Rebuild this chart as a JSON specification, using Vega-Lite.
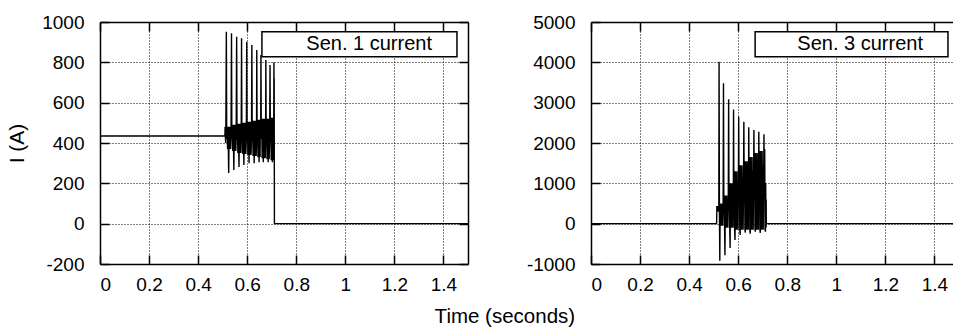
{
  "$schema": "https://vega.github.io/schema/vega-lite/v6.json",
  "padding": {"left": 6, "top": 13, "right": 0, "bottom": 0},
  "spacing": 57,
  "title": {"text": "Time (seconds)", "orient": "bottom", "anchor": "middle", "fontSize": 20.5, "fontWeight": "normal", "font": "Liberation Sans", "color": "black", "offset": 13, "dx": 25},
  "config": {
    "font": "Liberation Sans",
    "view": {"stroke": null},
    "axis": {
      "labelFont": "Liberation Sans", "labelFontSize": 19, "labelColor": "black",
      "titleFont": "Liberation Sans", "titleFontSize": 21, "titleFontWeight": "normal", "titleColor": "black",
      "domainColor": "black", "domainWidth": 1.5,
      "tickColor": "black", "tickWidth": 1.5, "tickSize": -9,
      "gridColor": "black", "gridDash": [1, 2], "gridWidth": 1, "gridOpacity": 1
    }
  },
  "datasets": {
    "s1": [
      {"t":0,"i":435},{"t":0.509,"i":435},{"t":0.510,"i":480},{"t":0.512,"i":400},{"t":0.513,"i":470},
      {"t":0.515,"i":952},{"t":0.5165,"i":420},{"t":0.518,"i":480},{"t":0.520,"i":370},{"t":0.522,"i":480},{"t":0.5245,"i":251},{"t":0.5265,"i":480},{"t":0.5285,"i":370},{"t":0.5305,"i":480},{"t":0.5325,"i":370},{"t":0.534,"i":420},
      {"t":0.536,"i":944},{"t":0.5375,"i":420},{"t":0.539,"i":490},{"t":0.541,"i":360},{"t":0.543,"i":490},{"t":0.5455,"i":266},{"t":0.5475,"i":490},{"t":0.5495,"i":360},{"t":0.5515,"i":490},{"t":0.5535,"i":360},{"t":0.555,"i":420},
      {"t":0.557,"i":927},{"t":0.5585,"i":420},{"t":0.560,"i":495},{"t":0.562,"i":350},{"t":0.564,"i":495},{"t":0.5665,"i":281},{"t":0.5685,"i":495},{"t":0.5705,"i":350},{"t":0.5725,"i":495},{"t":0.5745,"i":350},{"t":0.5755,"i":420},
      {"t":0.577,"i":919},{"t":0.5785,"i":420},{"t":0.580,"i":500},{"t":0.582,"i":345},{"t":0.584,"i":500},{"t":0.5865,"i":291},{"t":0.5885,"i":500},{"t":0.5905,"i":345},{"t":0.5925,"i":500},{"t":0.5945,"i":345},{"t":0.5965,"i":420},
      {"t":0.598,"i":902},{"t":0.5995,"i":420},{"t":0.601,"i":505},{"t":0.603,"i":340},{"t":0.605,"i":505},{"t":0.6075,"i":300},{"t":0.6095,"i":505},{"t":0.6115,"i":340},{"t":0.6135,"i":505},{"t":0.6155,"i":340},{"t":0.6175,"i":420},
      {"t":0.619,"i":886},{"t":0.6205,"i":420},{"t":0.622,"i":510},{"t":0.624,"i":335},{"t":0.626,"i":510},{"t":0.6285,"i":300},{"t":0.6305,"i":510},{"t":0.6325,"i":335},{"t":0.6345,"i":510},{"t":0.6365,"i":335},{"t":0.638,"i":420},
      {"t":0.639,"i":861},{"t":0.6405,"i":420},{"t":0.642,"i":515},{"t":0.644,"i":330},{"t":0.646,"i":515},{"t":0.6485,"i":305},{"t":0.6505,"i":515},{"t":0.6525,"i":330},{"t":0.6535,"i":515},{"t":0.655,"i":420},
      {"t":0.656,"i":836},{"t":0.6575,"i":420},{"t":0.659,"i":520},{"t":0.661,"i":325},{"t":0.663,"i":520},{"t":0.6655,"i":305},{"t":0.6675,"i":520},{"t":0.6695,"i":325},{"t":0.6715,"i":520},{"t":0.6735,"i":325},{"t":0.675,"i":420},
      {"t":0.676,"i":812},{"t":0.6775,"i":420},{"t":0.679,"i":520},{"t":0.681,"i":320},{"t":0.683,"i":520},{"t":0.6855,"i":305},{"t":0.6875,"i":520},{"t":0.6895,"i":320},{"t":0.6915,"i":420},
      {"t":0.693,"i":787},{"t":0.6945,"i":420},{"t":0.696,"i":525},{"t":0.698,"i":315},{"t":0.700,"i":525},{"t":0.7025,"i":305},{"t":0.7045,"i":525},{"t":0.7065,"i":315},{"t":0.708,"i":420},
      {"t":0.709,"i":800},{"t":0.7095,"i":450},{"t":0.710,"i":720},{"t":0.7105,"i":300},{"t":0.711,"i":0},{"t":1.5,"i":0}
    ],
    "s3": [
      {"t":0,"i":0},{"t":0.512,"i":0},{"t":0.513,"i":420},{"t":0.517,"i":420},{"t":0.519,"i":300},{"t":0.521,"i":450},
      {"t":0.522,"i":4015},{"t":0.5235,"i":250},{"t":0.525,"i":-920},{"t":0.5265,"i":500},{"t":0.528,"i":-50},{"t":0.5295,"i":450},{"t":0.531,"i":-50},{"t":0.5325,"i":500},{"t":0.534,"i":0},{"t":0.5355,"i":450},{"t":0.537,"i":-50},{"t":0.5385,"i":400},
      {"t":0.540,"i":3480},{"t":0.5415,"i":350},{"t":0.543,"i":700},{"t":0.5445,"i":-100},{"t":0.546,"i":-780},{"t":0.5475,"i":700},{"t":0.549,"i":-100},{"t":0.5505,"i":630},{"t":0.552,"i":-100},{"t":0.5535,"i":700},{"t":0.555,"i":0},{"t":0.5565,"i":560},{"t":0.558,"i":-100},{"t":0.5595,"i":500},
      {"t":0.561,"i":3083},{"t":0.5625,"i":500},{"t":0.564,"i":1000},{"t":0.5655,"i":-100},{"t":0.567,"i":-605},{"t":0.5685,"i":1000},{"t":0.570,"i":-100},{"t":0.5715,"i":900},{"t":0.573,"i":-100},{"t":0.5745,"i":1000},{"t":0.576,"i":0},{"t":0.5775,"i":800},{"t":0.579,"i":-100},{"t":0.580,"i":600},
      {"t":0.581,"i":2833},{"t":0.5825,"i":650},{"t":0.584,"i":1300},{"t":0.5855,"i":-150},{"t":0.587,"i":-406},{"t":0.5885,"i":1300},{"t":0.590,"i":-150},{"t":0.5915,"i":1170},{"t":0.593,"i":-150},{"t":0.5945,"i":1300},{"t":0.596,"i":0},{"t":0.5975,"i":1040},{"t":0.599,"i":-150},{"t":0.6005,"i":700},
      {"t":0.602,"i":2650},{"t":0.6035,"i":725},{"t":0.605,"i":1450},{"t":0.6065,"i":-150},{"t":0.608,"i":-282},{"t":0.6095,"i":1450},{"t":0.611,"i":-150},{"t":0.6125,"i":1300},{"t":0.614,"i":-150},{"t":0.6155,"i":1450},{"t":0.617,"i":0},{"t":0.6185,"i":1160},{"t":0.620,"i":-150},{"t":0.6215,"i":800},
      {"t":0.623,"i":2525},{"t":0.6245,"i":775},{"t":0.626,"i":1550},{"t":0.6275,"i":-150},{"t":0.629,"i":-220},{"t":0.6305,"i":1550},{"t":0.632,"i":-150},{"t":0.6335,"i":1400},{"t":0.635,"i":-150},{"t":0.6365,"i":1550},{"t":0.638,"i":0},{"t":0.6395,"i":1240},{"t":0.641,"i":-150},{"t":0.642,"i":800},
      {"t":0.643,"i":2389},{"t":0.6445,"i":825},{"t":0.646,"i":1650},{"t":0.6475,"i":-150},{"t":0.649,"i":-250},{"t":0.6505,"i":1650},{"t":0.652,"i":-150},{"t":0.6535,"i":1480},{"t":0.655,"i":-150},{"t":0.6565,"i":1650},{"t":0.658,"i":0},{"t":0.6595,"i":1320},{"t":0.661,"i":-150},{"t":0.6625,"i":850},
      {"t":0.664,"i":2322},{"t":0.6655,"i":875},{"t":0.667,"i":1750},{"t":0.6685,"i":-150},{"t":0.670,"i":-200},{"t":0.6715,"i":1750},{"t":0.673,"i":-150},{"t":0.6745,"i":1575},{"t":0.676,"i":-150},{"t":0.6775,"i":1750},{"t":0.679,"i":0},{"t":0.6805,"i":1400},{"t":0.682,"i":-150},{"t":0.683,"i":900},
      {"t":0.684,"i":2280},{"t":0.6855,"i":900},{"t":0.687,"i":1800},{"t":0.6885,"i":-150},{"t":0.690,"i":-230},{"t":0.6915,"i":1800},{"t":0.693,"i":-150},{"t":0.6945,"i":1620},{"t":0.696,"i":-150},{"t":0.6975,"i":1800},{"t":0.699,"i":0},{"t":0.7005,"i":1440},{"t":0.702,"i":-150},{"t":0.7035,"i":900},
      {"t":0.705,"i":2215},{"t":0.7065,"i":925},{"t":0.708,"i":1850},{"t":0.7095,"i":-150},{"t":0.711,"i":-200},{"t":0.712,"i":1000},{"t":0.7125,"i":600},{"t":0.7135,"i":-100},{"t":0.714,"i":600},{"t":0.7145,"i":0},{"t":1.5,"i":0}
    ]
  },
  "hconcat": [
    {
      "width": 368, "height": 242,
      "resolve": {"axis": {"x": "independent", "y": "independent"}},
      "layer": [
        {
          "data": {"name": "s1"},
          "mark": {"type": "line", "color": "black", "strokeWidth": 1.4, "clip": true},
          "encoding": {
            "x": {"field": "t", "type": "quantitative", "scale": {"domain": [0, 1.5], "nice": false, "zero": false},
                  "axis": {"orient": "bottom", "values": [0, 0.2, 0.4, 0.6, 0.8, 1, 1.2, 1.4], "labelExpr": "'' + datum.value", "grid": true, "title": null, "labelPadding": 20}},
            "y": {"field": "i", "type": "quantitative", "scale": {"domain": [-200, 1000], "nice": false, "zero": false},
                  "axis": {"orient": "left", "values": [-200, 0, 200, 400, 600, 800, 1000], "labelExpr": "'' + datum.value", "grid": true, "title": "I (A)", "labelPadding": 25, "titlePadding": 14}}
          }
        },
        {
          "data": {"values": [{}]},
          "mark": {"type": "rect", "fill": "white", "stroke": "black", "strokeWidth": 1.5},
          "encoding": {
            "x": {"datum": 0.66, "type": "quantitative", "axis": {"orient": "top", "values": [0, 0.2, 0.4, 0.6, 0.8, 1, 1.2, 1.4], "labels": false, "grid": false, "title": null}},
            "x2": {"datum": 1.455},
            "y": {"datum": 952, "type": "quantitative", "axis": {"orient": "right", "values": [-200, 0, 200, 400, 600, 800, 1000], "labels": false, "grid": false, "title": null}},
            "y2": {"datum": 828}
          }
        },
        {
          "data": {"values": [{"label": "Sen. 1 current"}]},
          "mark": {"type": "text", "align": "right", "baseline": "middle", "fontSize": 20, "font": "Liberation Sans", "color": "black"},
          "encoding": {
            "x": {"datum": 1.353, "type": "quantitative", "axis": null},
            "y": {"datum": 892, "type": "quantitative", "axis": null},
            "text": {"field": "label"}
          }
        }
      ]
    },
    {
      "width": 362, "height": 242,
      "resolve": {"axis": {"x": "independent", "y": "independent"}},
      "layer": [
        {
          "data": {"name": "s3"},
          "mark": {"type": "line", "color": "black", "strokeWidth": 1.4, "clip": true},
          "encoding": {
            "x": {"field": "t", "type": "quantitative", "scale": {"domain": [0, 1.4755], "nice": false, "zero": false},
                  "axis": {"orient": "bottom", "values": [0, 0.2, 0.4, 0.6, 0.8, 1, 1.2, 1.4], "labelExpr": "'' + datum.value", "grid": true, "title": null, "labelPadding": 20}},
            "y": {"field": "i", "type": "quantitative", "scale": {"domain": [-1000, 5000], "nice": false, "zero": false},
                  "axis": {"orient": "left", "values": [-1000, 0, 1000, 2000, 3000, 4000, 5000], "labelExpr": "'' + datum.value", "grid": true, "title": null, "labelPadding": 25}}
          }
        },
        {
          "data": {"values": [{}]},
          "mark": {"type": "rect", "fill": "white", "stroke": "black", "strokeWidth": 1.5},
          "encoding": {
            "x": {"datum": 0.669, "type": "quantitative", "axis": {"orient": "top", "values": [0, 0.2, 0.4, 0.6, 0.8, 1, 1.2, 1.4], "labels": false, "grid": false, "title": null}},
            "x2": {"datum": 1.455},
            "y": {"datum": 4760, "type": "quantitative", "axis": null},
            "y2": {"datum": 4140}
          }
        },
        {
          "data": {"values": [{"label": "Sen. 3 current"}]},
          "mark": {"type": "text", "align": "right", "baseline": "middle", "fontSize": 20, "font": "Liberation Sans", "color": "black"},
          "encoding": {
            "x": {"datum": 1.353, "type": "quantitative", "axis": null},
            "y": {"datum": 4460, "type": "quantitative", "axis": null},
            "text": {"field": "label"}
          }
        }
      ]
    }
  ]
}
